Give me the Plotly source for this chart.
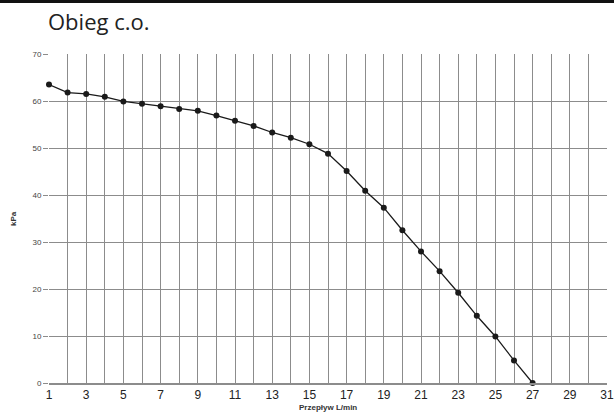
import plotly.graph_objects as go

flow = list(range(1, 28))
kpa = [63.5, 61.8, 61.5, 60.9, 59.9, 59.4, 58.9, 58.3, 57.9, 56.9, 55.8, 54.7, 53.3, 52.2,
       50.8, 48.8, 45.1, 40.9, 37.3, 32.5, 28.0, 23.8, 19.2, 14.3, 9.9, 4.8, 0.0]
x_ticks = list(range(1, 32, 2))
y_ticks = list(range(0, 71, 10))

W, H = 614, 414
L, R, T, B = 49, 7, 54, 31
PH = H - T - B
PW = W - L - R

fig = go.Figure()
fig.add_trace(go.Scatter(
    x=flow, y=kpa, mode="lines+markers",
    line=dict(color="#1a1a1a", width=1.3),
    marker=dict(color="#1a1a1a", size=6),
    showlegend=False, cliponaxis=False,
))

grid = "#8c8c8c"
top_y = 1 + (T - 1.5) / PH
fig.update_layout(
    width=W, height=H,
    margin=dict(l=L, r=R, t=T, b=B, autoexpand=False),
    paper_bgcolor="white", plot_bgcolor="white",
    title=dict(text="Obieg c.o.", x=48 / W, xref="container", xanchor="left",
               y=1 - 22 / H, yref="container", yanchor="middle",
               font=dict(family="Open Sans", size=22, color="#222")),
    xaxis=dict(range=[1, 31], tickvals=x_ticks, showgrid=True, gridcolor=grid, gridwidth=1.4,
               minor=dict(dtick=1, tick0=1, showgrid=True, gridcolor=grid, gridwidth=1.4),
               zeroline=False, showline=True, linecolor=grid, linewidth=1.5,
               ticks="", tickfont=dict(family="Liberation Sans", size=12, color="#222")),
    yaxis=dict(range=[0, 70], tickvals=y_ticks, showgrid=True, gridcolor=grid, gridwidth=1.4,
               zeroline=False, showline=False, ticks="outside", ticklen=5, tickcolor=grid,
               tickwidth=1.2,
               tickfont=dict(family="Liberation Sans", size=8, color="#444")),
    annotations=[
        dict(text="<b>Przepływ L/min</b>", x=16, xref="x", y=-(407 - 383) / PH,
             yref="paper", showarrow=False, xanchor="center", yanchor="middle",
             font=dict(family="Liberation Sans", size=8, color="#333")),
        dict(text="<b>kPa</b>", x=-(49 - 13) / PW, xref="paper", y=(383 - 219) / PH,
             yref="paper", showarrow=False, textangle=-90, xanchor="center",
             yanchor="middle", font=dict(family="Liberation Sans", size=8, color="#333")),
    ],
    shapes=[dict(type="line", xref="paper", yref="paper", layer="above",
                 x0=-L / PW, x1=1 + R / PW, y0=top_y, y1=top_y,
                 line=dict(color="#111", width=3))],
)

fig.write_html("out.html", config={"displayModeBar": False},
               post_script="document.body.style.margin='0';document.body.style.overflow='hidden';")
